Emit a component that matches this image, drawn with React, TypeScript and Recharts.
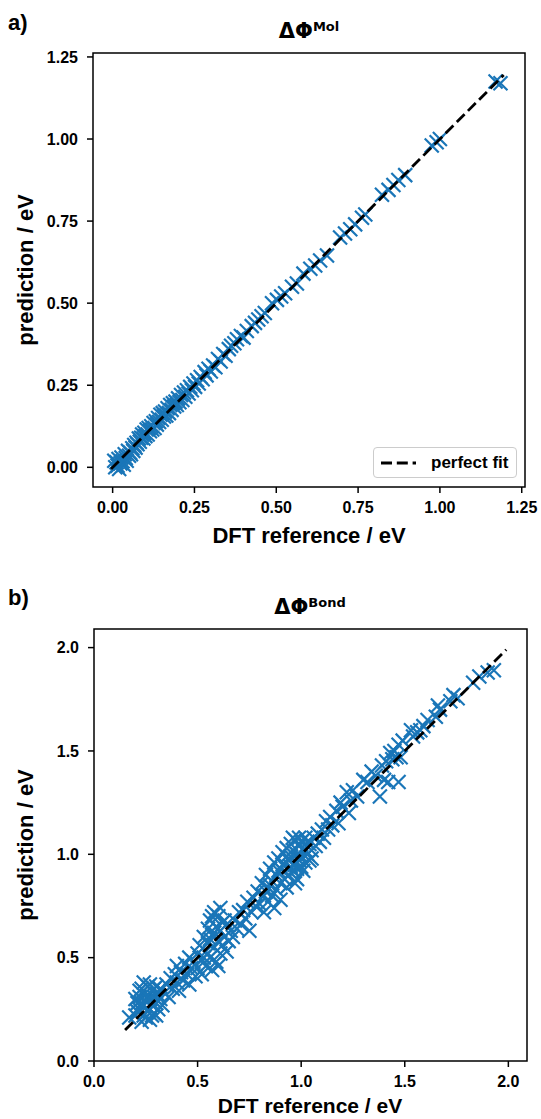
import { ReferenceArea, Scatter, ScatterChart, XAxis, YAxis } from "recharts";

// [DFT reference, prediction] pairs
const molPoints: [number, number][] = [
  [0.005, 0.02], [0.008, 0.0], [0.012, 0.015], [0.015, 0.005], [0.018, 0.025], [0.02, -0.005], [0.024, 0.012], [0.027, 0.03],
  [0.03, 0.018], [0.034, 0.008], [0.037, 0.04], [0.04, 0.028], [0.043, 0.02], [0.047, 0.05], [0.05, 0.035], [0.053, 0.045],
  [0.056, 0.04], [0.06, 0.058], [0.063, 0.05], [0.066, 0.068], [0.07, 0.06], [0.073, 0.075], [0.076, 0.07], [0.08, 0.088],
  [0.083, 0.078], [0.087, 0.09], [0.09, 0.1], [0.094, 0.088], [0.097, 0.105], [0.1, 0.095], [0.104, 0.115], [0.107, 0.1],
  [0.11, 0.12], [0.114, 0.11], [0.118, 0.125], [0.121, 0.115], [0.125, 0.135], [0.128, 0.12], [0.132, 0.14], [0.135, 0.13],
  [0.139, 0.15], [0.142, 0.138], [0.146, 0.16], [0.15, 0.145], [0.153, 0.165], [0.157, 0.155], [0.16, 0.17], [0.164, 0.158],
  [0.168, 0.18], [0.172, 0.165], [0.176, 0.19], [0.18, 0.175], [0.184, 0.195], [0.188, 0.185], [0.192, 0.2], [0.196, 0.19],
  [0.2, 0.21], [0.204, 0.198], [0.209, 0.22], [0.213, 0.205], [0.218, 0.228], [0.222, 0.215], [0.227, 0.235], [0.232, 0.225],
  [0.237, 0.245], [0.242, 0.235], [0.247, 0.255], [0.252, 0.245], [0.258, 0.265], [0.263, 0.255], [0.269, 0.275], [0.275, 0.268],
  [0.281, 0.29], [0.287, 0.28], [0.293, 0.3], [0.3, 0.292], [0.307, 0.31], [0.314, 0.305], [0.322, 0.33], [0.33, 0.322],
  [0.338, 0.345], [0.345, 0.34], [0.355, 0.36], [0.362, 0.37], [0.372, 0.378], [0.38, 0.39], [0.392, 0.4], [0.4, 0.395],
  [0.41, 0.415], [0.425, 0.43], [0.435, 0.44], [0.445, 0.45], [0.455, 0.46], [0.465, 0.47], [0.487, 0.5], [0.502, 0.51],
  [0.515, 0.52], [0.527, 0.53], [0.548, 0.55], [0.563, 0.56], [0.583, 0.59], [0.604, 0.605], [0.619, 0.615], [0.634, 0.63],
  [0.655, 0.645], [0.695, 0.7], [0.71, 0.712], [0.726, 0.725], [0.741, 0.74], [0.762, 0.76], [0.772, 0.77], [0.823, 0.83],
  [0.843, 0.845], [0.858, 0.86], [0.873, 0.875], [0.894, 0.89], [0.975, 0.98], [0.99, 0.99], [1.0, 1.0], [1.17, 1.175],
  [1.185, 1.17],
];

const bondPoints: [number, number][] = [
  [0.17, 0.21], [0.2, 0.22], [0.2, 0.3], [0.21, 0.28], [0.21, 0.24], [0.22, 0.31], [0.22, 0.25], [0.22, 0.34],
  [0.23, 0.19], [0.23, 0.35], [0.23, 0.28], [0.24, 0.27], [0.24, 0.22], [0.24, 0.38], [0.25, 0.33], [0.25, 0.29],
  [0.25, 0.21], [0.26, 0.24], [0.26, 0.36], [0.26, 0.31], [0.27, 0.3], [0.27, 0.2], [0.27, 0.37], [0.28, 0.27],
  [0.28, 0.34], [0.28, 0.22], [0.29, 0.23], [0.29, 0.31], [0.29, 0.35], [0.3, 0.28], [0.3, 0.36], [0.3, 0.22],
  [0.31, 0.25], [0.31, 0.32], [0.32, 0.3], [0.32, 0.35], [0.33, 0.27],
  [0.34, 0.33], [0.35, 0.37], [0.36, 0.31], [0.37, 0.4], [0.38, 0.35], [0.39, 0.42], [0.4, 0.38], [0.4, 0.46],
  [0.41, 0.34], [0.42, 0.43], [0.43, 0.39], [0.44, 0.47], [0.45, 0.42], [0.46, 0.37], [0.46, 0.5], [0.47, 0.45],
  [0.48, 0.48], [0.49, 0.41], [0.5, 0.52], [0.5, 0.45], [0.51, 0.56], [0.52, 0.49], [0.52, 0.42], [0.53, 0.6],
  [0.53, 0.5], [0.54, 0.53], [0.54, 0.46], [0.55, 0.64], [0.55, 0.57], [0.56, 0.5], [0.56, 0.68], [0.56, 0.59],
  [0.57, 0.61], [0.57, 0.44], [0.57, 0.7], [0.58, 0.55], [0.58, 0.72], [0.58, 0.62], [0.59, 0.65], [0.59, 0.48],
  [0.6, 0.58], [0.6, 0.7], [0.6, 0.46], [0.61, 0.52], [0.61, 0.63], [0.61, 0.74], [0.62, 0.67], [0.62, 0.56],
  [0.63, 0.6], [0.63, 0.68], [0.64, 0.53], [0.64, 0.66], [0.65, 0.58], [0.66, 0.63],
  [0.67, 0.6], [0.68, 0.68], [0.69, 0.64], [0.7, 0.72], [0.71, 0.66], [0.72, 0.73], [0.73, 0.69], [0.74, 0.77],
  [0.75, 0.63], [0.76, 0.72], [0.77, 0.79], [0.78, 0.75],
  [0.79, 0.82], [0.8, 0.76], [0.81, 0.86], [0.82, 0.8], [0.82, 0.72], [0.83, 0.9], [0.83, 0.82], [0.84, 0.84],
  [0.84, 0.77], [0.85, 0.93], [0.85, 0.85], [0.86, 0.87], [0.86, 0.8], [0.87, 0.96], [0.87, 0.74], [0.88, 0.9],
  [0.88, 0.83], [0.89, 0.98], [0.89, 0.92], [0.9, 0.93], [0.9, 0.86], [0.9, 0.78], [0.91, 1.01], [0.91, 0.95],
  [0.92, 0.95], [0.92, 0.88], [0.93, 1.03], [0.93, 0.84], [0.93, 0.99], [0.94, 0.97], [0.94, 0.9], [0.95, 1.05],
  [0.95, 0.99], [0.95, 0.94], [0.96, 0.92], [0.96, 1.02], [0.96, 1.08], [0.97, 0.95], [0.97, 1.07], [0.97, 0.86],
  [0.98, 1.0], [0.98, 0.93], [0.98, 0.88], [0.99, 1.04], [0.99, 0.97], [0.99, 1.08], [1.0, 1.06], [1.0, 0.99],
  [1.0, 0.94], [1.01, 0.92], [1.01, 1.02], [1.02, 0.96], [1.02, 1.08], [1.02, 1.02], [1.03, 1.0], [1.03, 1.06],
  [1.04, 0.97], [1.04, 1.05], [1.05, 1.02], [1.05, 0.98], [1.06, 1.08], [1.07, 1.04], [1.08, 1.1], [1.09, 1.06],
  [1.1, 1.12],
  [1.11, 1.08], [1.12, 1.16], [1.13, 1.12], [1.14, 1.18], [1.15, 1.14], [1.17, 1.21], [1.18, 1.15], [1.19, 1.25],
  [1.2, 1.23], [1.22, 1.3], [1.23, 1.2], [1.24, 1.26], [1.25, 1.31], [1.27, 1.28], [1.3, 1.36], [1.32, 1.35],
  [1.34, 1.4], [1.36, 1.38], [1.38, 1.28], [1.39, 1.43], [1.4, 1.36], [1.41, 1.45], [1.42, 1.35], [1.43, 1.49],
  [1.44, 1.46], [1.45, 1.5], [1.46, 1.47], [1.47, 1.35], [1.47, 1.53], [1.48, 1.47], [1.49, 1.55],
  [1.53, 1.6], [1.54, 1.57], [1.56, 1.59], [1.575, 1.6], [1.59, 1.62], [1.61, 1.65], [1.65, 1.665], [1.66, 1.72],
  [1.67, 1.7], [1.72, 1.74], [1.735, 1.77], [1.755, 1.755], [1.83, 1.83], [1.86, 1.86], [1.9, 1.88], [1.93, 1.89],
];

const molTicks = [0, 0.25, 0.5, 0.75, 1, 1.25];
const bondTicks = [0, 0.5, 1, 1.5, 2];
const molFit = [-0.005, 1.195];
const bondFit = [0.15, 1.99];

const blue = "#1a76b8";
const sans = '"Liberation Sans", Arial, sans-serif';
const tickFont = { fill: "#000", fontSize: 16, fontWeight: "bold", fontFamily: sans };
const labelFont = { fontSize: 22, fontWeight: "bold", fontFamily: sans };
const fitStroke = { stroke: "#000", strokeWidth: 2.8, strokeDasharray: "11 4.8" };

const toRows = (pts: [number, number][]) => pts.map(([x, y]) => ({ x, y }));

function Cross(props: any) {
  const { cx, cy } = props;
  const s = 7;
  return <path d={`M${cx - s},${cy - s}L${cx + s},${cy + s}M${cx - s},${cy + s}L${cx + s},${cy - s}`} stroke={blue} strokeWidth={2.2} fill="none"/>;
}

const NoMarker = () => <g/>;

// legend box lives outside the chart so it does not eat into the plot area
function FitLegend() {
  return (
    <div style={{ position: "absolute", left: 373, top: 447, boxSizing: "border-box", width: 144, height: 31, border: "1px solid #cccccc", borderRadius: 4, background: "rgba(255,255,255,0.8)", display: "flex", alignItems: "center", fontFamily: sans, fontWeight: "bold", fontSize: 17 }}>
      <svg width={50} height={10} style={{ flex: "none" }}><line x1={7} y1={5} x2={42} y2={5} {...fitStroke}/></svg>
      <span style={{ marginLeft: 7 }}>perfect fit</span>
    </div>
  );
}

type PanelProps = {
  points: [number, number][];
  ticks: number[];
  domX: [number, number];
  domY: [number, number];
  fit: number[];
  digits: number;
  height: number;
  margin: { top: number; right: number; bottom: number; left: number };
};

function Panel({ points, ticks, domX, domY, fit, digits, height, margin }: PanelProps) {
  const fmt = (v: number) => v.toFixed(digits);
  const fitRows = fit.map((v) => ({ x: v, y: v }));
  return (
    <ScatterChart width={541} height={height} margin={margin}>
      <XAxis type="number" dataKey="x" domain={domX} ticks={ticks} interval={0} allowDataOverflow tickFormatter={fmt} height={30}
        axisLine={false} tickSize={6} tickMargin={9} tickLine={{ stroke: "#000", strokeWidth: 1.5 }} tick={tickFont}/>
      <YAxis type="number" dataKey="y" domain={domY} ticks={ticks} interval={0} allowDataOverflow tickFormatter={fmt} width={60}
        axisLine={false} tickSize={6} tickMargin={9} tickLine={{ stroke: "#000", strokeWidth: 1.5 }} tick={tickFont}/>
      <ReferenceArea x1={domX[0]} x2={domX[1]} y1={domY[0]} y2={domY[1]} fill="none" stroke="#000" strokeWidth={1.5} fillOpacity={0} ifOverflow="visible"/>
      <Scatter data={toRows(points)} shape={Cross} isAnimationActive={false} legendType="none"/>
      <Scatter data={fitRows} line={fitStroke} lineType="joint" shape={NoMarker} isAnimationActive={false} legendType="none"/>
    </ScatterChart>
  );
}

export default function App() {
  return (
    <div style={{ position: "absolute", left: 0, top: 0, width: 541, height: 1119, background: "#fff" }}>
      <div style={{ position: "absolute", left: 0, top: 0 }}>
        <Panel points={molPoints} ticks={molTicks} domX={[-0.06, 1.26]} domY={[-0.06, 1.262]} fit={molFit} digits={2}
          height={560} margin={{ top: 53, right: 16, bottom: 43, left: 33 }}/>
        <FitLegend/>
      </div>
      <div style={{ position: "absolute", left: 0, top: 570 }}>
        <Panel points={bondPoints} ticks={bondTicks} domX={[0, 2.09]} domY={[0, 2.09]} fit={bondFit} digits={1}
          height={549} margin={{ top: 59, right: 14, bottom: 28, left: 34 }}/>
      </div>
      <svg width={541} height={1119} style={{ position: "absolute", left: 0, top: 0, pointerEvents: "none" }}>
        <text x={8} y={30} style={labelFont}>a)</text>
        <text x={309} y={38} textAnchor="middle" fontFamily='"DejaVu Sans", sans-serif' fontWeight="bold">
          <tspan fontSize={21}>ΔΦ</tspan><tspan fontSize={13} dy={-7}>Mol</tspan>
        </text>
        <text x={33} y={270} transform="rotate(-90 33 270)" textAnchor="middle" style={labelFont}>prediction / eV</text>
        <text x={309} y={543} textAnchor="middle" style={labelFont}>DFT reference / eV</text>
        <text x={8} y={605} style={labelFont}>b)</text>
        <text x={310} y={614} textAnchor="middle" fontFamily='"DejaVu Sans", sans-serif' fontWeight="bold">
          <tspan fontSize={21}>ΔΦ</tspan><tspan fontSize={13} dy={-7}>Bond</tspan>
        </text>
        <text x={33} y={845} transform="rotate(-90 33 845)" textAnchor="middle" style={labelFont}>prediction / eV</text>
        <text x={310} y={1113} textAnchor="middle" style={{ ...labelFont, fontSize: 21 }}>DFT reference / eV</text>
      </svg>
    </div>
  );
}
